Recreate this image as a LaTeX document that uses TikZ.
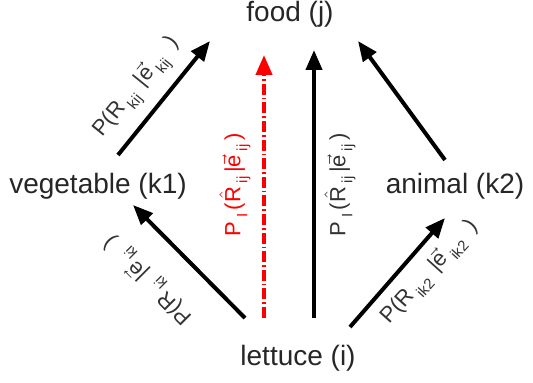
\documentclass[tikz,border=0pt]{standalone}
\usepackage{fontspec}
\setmainfont{Liberation Sans}
\usetikzlibrary{arrows.meta}
\newcommand{\evec}{\ensuremath{\vec{\mbox{e}}}}
\newcommand{\rhat}{\ensuremath{\hat{\mbox{R}}}}
\newcommand{\lowsub}[1]{\,\raisebox{-0.6ex}{\fontsize{7.5}{8}\selectfont #1}\,}
\begin{document}
\begin{tikzpicture}[
  x=0.5pt, y=-0.5pt,
  term/.style={text=black!85, inner sep=0pt, font=\fontsize{14}{16}\selectfont},
  prob/.style={text=black!80, inner sep=0pt, font=\fontsize{11}{13}\selectfont},
  arr/.style={-{Triangle[length=10pt,width=8pt]}, line width=2pt},
  guess/.style={arr, red, dash pattern=on 5.5pt off 1.5pt on 0.8pt off 1.5pt}
]
\useasboundingbox (0,0) rectangle (533,383);
\node[term] (food) at (290,14) {food (j)};
\node[term] (veg) at (98,186) {vegetable (k1)};
\node[term] (animal) at (455,186) {animal (k2)};
\node[term] (lettuce) at (298,358) {lettuce (i)};

\draw[arr] ([shift={(-53,-40)}]lettuce.center) -- ([shift={(35,19)}]veg.center);
\draw[arr] ([shift={(20,-31)}]veg.center) -- ([shift={(-80,27)}]food.center);
\draw[arr] ([shift={(52,-31)}]lettuce.center) -- ([shift={(-10,32)}]animal.center);
\draw[arr] ([shift={(-10,-26)}]animal.center) -- ([shift={(68,27)}]food.center);
\draw[guess] ([shift={(-34,-40)}]lettuce.center) -- ([shift={(-26,41)}]food.center);
\draw[arr] ([shift={(16,-40)}]lettuce.center) -- ([shift={(24,36)}]food.center);

\node[prob, rotate=135] (pki) at (148,280) {P(R\lowsub{ki} |\evec\lowsub{ki}\, )};
\node[prob, rotate=51] (pkij) at (138,88) {P(R\lowsub{kij} |\evec\lowsub{kij}\, )};
\node[prob, rotate=48] (pik2) at (430,272) {P(R\lowsub{ik2} |\evec\lowsub{ik2}\, )};
\node[prob, rotate=90, text=red] (pred) at (235,185) {P\lowsub{I}(\rhat\lowsub{ij}|\evec\lowsub{ij})};
\node[prob, rotate=90] (pobs) at (340,185) {P\lowsub{I}(\rhat\lowsub{ij}|\evec\lowsub{ij})};
\end{tikzpicture}
\end{document}
